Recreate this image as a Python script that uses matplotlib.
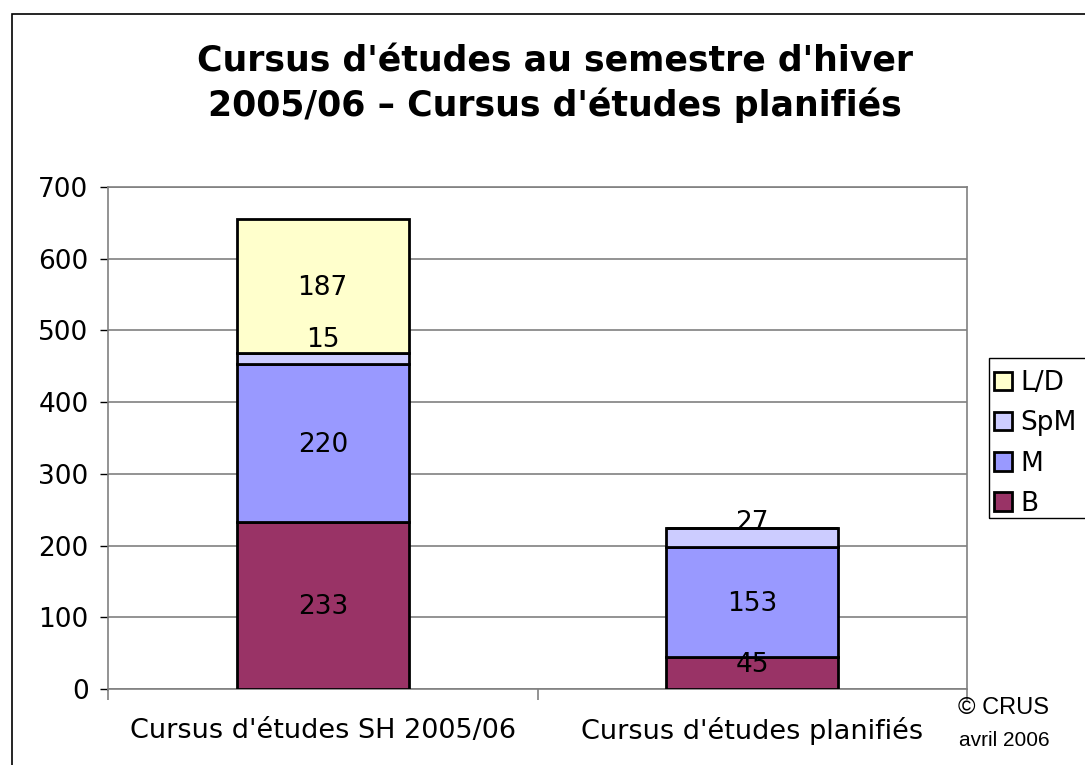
import matplotlib
matplotlib.use("Agg")
import matplotlib.pyplot as plt
from matplotlib.patches import Rectangle, Patch
from matplotlib.transforms import offset_copy

categories = ["Cursus d'études SH 2005/06", "Cursus d'études planifiés"]
series_names = ["B", "M", "SpM", "L/D"]
B = [233, 45]
M = [220, 153]
SpM = [15, 27]
LD = [187, 0]
colors = ["#993366", "#9999FF", "#CCCCFF", "#FFFFCC"]
yticks = [0, 100, 200, 300, 400, 500, 600, 700]

plt.rcParams['font.family'] = ['DejaVu Sans']
fig = plt.figure(figsize=(10.85, 7.65), dpi=100)
W, H = 1085, 765

def fx(px):
    return px / W

def fy(py):
    return 1 - py / H

# outer frame
fig.patches.append(Rectangle((fx(12), fy(780)), fx(1100) - fx(12), fy(14) - fy(780),
                             transform=fig.transFigure, fill=False, edgecolor='black', lw=1.2))

ax = fig.add_axes([fx(108), fy(689), fx(967) - fx(108), fy(187) - fy(689)])
ax.set_xlim(-0.5, 1.5)
ax.set_ylim(0, 700)
xs = [0, 1]
bottom = [0, 0]
series = [B, M, SpM, LD]
px_per_unit = (fy(187) - fy(689)) * H / 700.0
for name, vals, col in zip(series_names, series, colors):
    ax.bar(xs, vals, width=0.4, bottom=bottom, color=col, edgecolor='black', linewidth=2, zorder=3, label=name)
    for x, v, b in zip(xs, vals, bottom):
        if v > 0:
            seg_px = v * px_per_unit
            shift_px = max(0.0, (52 - seg_px) / 2) - 2
            tr = offset_copy(ax.transData, fig=fig, x=0, y=shift_px * 72 / 100, units='points')
            ax.text(x, b + v / 2, str(v), ha='center', va='center', fontsize=19, zorder=4, transform=tr)
    bottom = [b + v for b, v in zip(bottom, vals)]

ax.set_yticks(yticks)
ax.set_yticklabels([str(t) for t in yticks], fontsize=19)
ax.yaxis.grid(True, color='#808080', lw=1.2, zorder=0)
ax.set_xticks([-0.5, 0.5, 1.5])
ax.set_xticklabels([])
ax.tick_params(axis='x', direction='out', length=8, color='#808080', width=1.2)
ax.tick_params(axis='y', direction='out', length=6, color='black', width=1, pad=8)
for x, c in zip(xs, categories):
    ax.text(x, -0.083, c, transform=ax.get_xaxis_transform(), ha='center', va='center', fontsize=19.5)
for s in ax.spines.values():
    s.set_color('#808080')
    s.set_linewidth(1.2)

fig.text(fx(555), fy(62), "Cursus d'études au semestre d'hiver", ha='center', va='center',
         fontsize=25, fontweight='bold')
fig.text(fx(555), fy(105), "2005/06 – Cursus d'études planifiés", ha='center', va='center',
         fontsize=25, fontweight='bold')

fig.text(fx(958), fy(708), "© CRUS", ha='left', va='center', fontsize=17, family='Liberation Sans')
fig.text(fx(959), fy(741), "avril 2006", ha='left', va='center', fontsize=15, family='Liberation Sans')

# legend
fig.patches.append(Rectangle((fx(989), fy(518)), fx(1100) - fx(989), fy(358) - fy(518),
                             transform=fig.transFigure, fill=False, edgecolor='black', lw=1))
handles = [Patch(facecolor=c, edgecolor='black', linewidth=2) for c in colors][::-1]
fig.legend(handles, series_names[::-1], loc='upper left', bbox_to_anchor=(fx(994), fy(370)),
           frameon=False, fontsize=19, handlelength=0.7, handleheight=0.7, handletextpad=0.3,
           labelspacing=0.54, borderaxespad=0, borderpad=0.0)

fig.savefig("out.png", dpi=100)
